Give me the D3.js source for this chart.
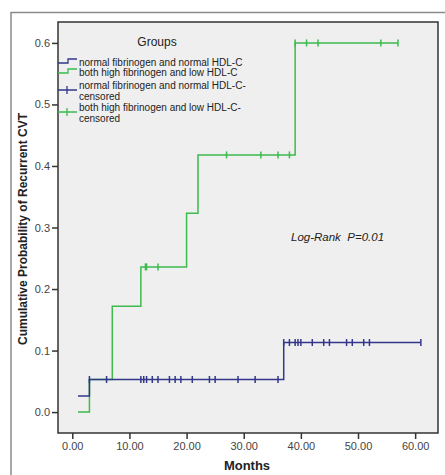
<!DOCTYPE html>
<html>
<head>
<meta charset="utf-8">
<script src="https://cdn.jsdelivr.net/npm/d3@7"></script>
<style>
  body { margin: 0; background: #fff; }
  text { font-family: "Liberation Sans", Arial, sans-serif; }
</style>
</head>
<body>
<div class="container"></div>
<script>
var WIDTH = 445;
var HEIGHT = 475;

// group 1: normal fibrinogen and normal HDL-C
var blueSteps = [{t:1, p:0.026}, {t:3, p:0.053}, {t:37, p:0.113}, {t:61, p:0.113}];
var blueCensored = [3, 6, 12, 12.5, 13, 14, 15, 17, 18, 19, 21, 24, 25, 29, 32, 36,
                    37, 38, 39, 39.5, 40, 42, 44, 45, 48, 49, 51, 52, 61];
// group 2: both high fibrinogen and low HDL-C
var greenSteps = [{t:1, p:0}, {t:3, p:0.053}, {t:7, p:0.172}, {t:12, p:0.236},
                  {t:20, p:0.323}, {t:22, p:0.418}, {t:39, p:0.6}, {t:57, p:0.6}];
var greenCensored = [12.8, 13, 15, 27, 33, 36, 38, 39, 41, 43, 54, 57];

var xTicks = [0, 10, 20, 30, 40, 50, 60];
var yTicks = [0, 0.1, 0.2, 0.3, 0.4, 0.5, 0.6];
var legendLabels = [
  ['normal fibrinogen and normal HDL-C'],
  ['both high fibrinogen and low HDL-C'],
  ['normal fibrinogen and normal HDL-C-', 'censored'],
  ['both high fibrinogen and low HDL-C-', 'censored']
];

var BLUE = '#33378a';
var GREEN = '#3dbb4c';

var translate = function (x, y) {
  return 'translate(' + x + ',' + y + ')';
};

// value at time t for a step curve
var stepValue = function (steps, t) {
  var v = steps[0].p;
  steps.forEach(function (s) { if (s.t <= t) v = s.p; });
  return v;
};

var loadChart = function () {
  var left = 58, top = 22, right = 438, bottom = 433;

  var xScale = d3.scaleLinear().domain([-2.5, 64]).range([left, right]);
  var yScale = d3.scaleLinear().domain([-0.034, 0.634]).range([bottom, top]);

  var svg = d3.select('.container').append('svg')
      .attr('width', WIDTH)
      .attr('height', HEIGHT);

  // outer frame
  svg.append('path')
      .attr('d', 'M11,475 V12.5 H445')
      .attr('fill', 'none')
      .attr('stroke', '#8a8a8a')
      .attr('stroke-width', 1.5);

  // plot background
  svg.append('rect')
      .attr('x', left).attr('y', top)
      .attr('width', right - left).attr('height', bottom - top)
      .attr('fill', '#efefef')
      .attr('stroke', '#333')
      .attr('stroke-width', 1.5);

  var xAxis = d3.axisBottom(xScale).tickValues(xTicks).tickSize(6)
      .tickFormat(d3.format('.2f'));
  var yAxis = d3.axisLeft(yScale).tickValues(yTicks).tickSize(6)
      .tickFormat(d3.format('.1f'));

  var gx = svg.append('g').attr('transform', translate(0, bottom)).call(xAxis);
  var gy = svg.append('g').attr('transform', translate(left, 0)).call(yAxis);
  [gx, gy].forEach(function (g) {
    g.select('.domain').remove();
    g.selectAll('line').attr('stroke', '#333').attr('stroke-width', 1.5);
    g.selectAll('text').attr('fill', '#444').style('font-size', '11px')
      .style('font-family', '"Liberation Sans", Arial, sans-serif');
  });
  gy.selectAll('text').attr('x', -8);
  gx.selectAll('text').attr('y', 9);

  svg.append('text')
      .attr('x', 247).attr('y', 470)
      .attr('text-anchor', 'middle')
      .style('font-size', '13px').style('font-weight', 'bold')
      .attr('fill', '#222')
      .text('Months');

  svg.append('text')
      .attr('transform', translate(27, 229) + ' rotate(-90)')
      .attr('text-anchor', 'middle')
      .style('font-size', '12px').style('font-weight', 'bold')
      .attr('fill', '#222')
      .text('Cumulative Probability of Recurrent CVT');

  var stepLine = d3.line()
      .x(function (d) { return xScale(d.t); })
      .y(function (d) { return yScale(d.p); })
      .curve(d3.curveStepAfter);

  var curves = [
    {steps: blueSteps, cens: blueCensored, color: BLUE},
    {steps: greenSteps, cens: greenCensored, color: GREEN}
  ];

  // draw green first so blue sits on top where they overlap
  curves.slice().reverse().forEach(function (c) {
    var g = svg.append('g');
    g.append('path')
        .datum(c.steps)
        .attr('d', stepLine)
        .attr('fill', 'none')
        .attr('stroke', c.color)
        .attr('stroke-width', 1.5);
    g.selectAll('line.cens').data(c.cens).enter()
        .append('line')
        .attr('class', 'cens')
        .attr('x1', function (d) { return xScale(d); })
        .attr('x2', function (d) { return xScale(d); })
        .attr('y1', function (d) { return yScale(stepValue(c.steps, d)) - 3.5; })
        .attr('y2', function (d) { return yScale(stepValue(c.steps, d)) + 3.5; })
        .attr('stroke', c.color)
        .attr('stroke-width', 1.5);
  });

  // legend
  var legend = svg.append('g');
  legend.append('text')
      .attr('x', 157).attr('y', 46)
      .attr('text-anchor', 'middle')
      .style('font-size', '12px')
      .attr('fill', '#222')
      .text('Groups');

  var legendColors = [BLUE, GREEN, BLUE, GREEN];
  var legendBase = [65.5, 75.5, 88.5, 110.5];
  var symbolY = [63, 73, 90, 112];
  legendLabels.forEach(function (lines, i) {
    var y = symbolY[i];
    var col = legendColors[i];
    if (i < 2) {
      legend.append('path')
          .attr('d', 'M58,' + y + ' H68 V' + (y - 4) + ' H77')
          .attr('fill', 'none').attr('stroke', col).attr('stroke-width', 1.3);
    } else {
      legend.append('path')
          .attr('d', 'M58,' + y + ' H77 M67,' + (y - 4) + ' V' + (y + 4))
          .attr('fill', 'none').attr('stroke', col).attr('stroke-width', 1.3);
    }
    var txt = legend.append('text')
        .attr('x', 79)
        .attr('y', legendBase[i])
        .style('font-size', '10px')
        .attr('fill', '#222');
    lines.forEach(function (ln, j) {
      txt.append('tspan').attr('x', 79).attr('dy', j === 0 ? 0 : 11).text(ln);
    });
  });

  svg.append('text')
      .attr('x', 291).attr('y', 241)
      .style('font-size', '11.5px').style('font-style', 'italic')
      .attr('fill', '#222')
      .attr('xml:space', 'preserve')
      .text('Log-Rank  P=0.01');
};

window.onload = loadChart;
</script>
</body>
</html>
